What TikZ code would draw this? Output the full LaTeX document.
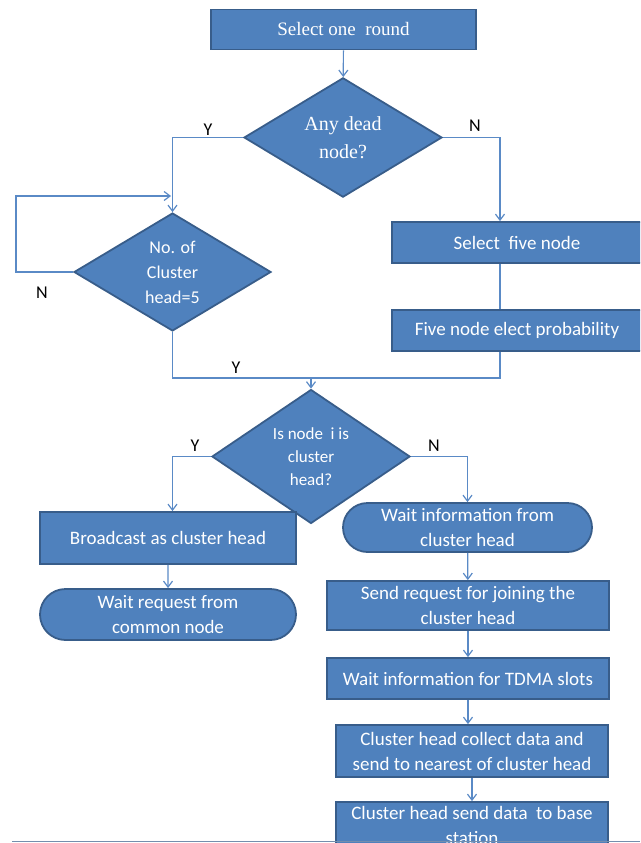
\documentclass[tikz,border=0pt]{standalone}
\usepackage{fontspec}
\setmainfont{Carlito}
\newfontfamily\headfont{Liberation Serif}
\usetikzlibrary{positioning,arrows.meta,shapes.geometric,shapes.misc}
\definecolor{boxfill}{HTML}{4F81BD}
\definecolor{boxline}{HTML}{385D8A}
\definecolor{linkblue}{HTML}{5A8AC6}
\tikzset{
    >={Straight Barb[length=6pt,width=9pt]}
}

\begin{document}
\begin{tikzpicture}[x=1pt,y=-1pt,
  process/.style={rectangle, draw=boxline, fill=boxfill, line width=1.8pt, text=white, align=center, inner sep=0pt, font=\fontsize{19}{25}\selectfont},
  terminal/.style={process, rounded rectangle},
  decision/.style={diamond, draw=boxline, fill=boxfill, line width=1.8pt, text=white, align=center, inner sep=0pt},
  arrowstyle/.style={->, draw=linkblue, line width=1.2pt},
  linkstyle/.style={draw=linkblue, line width=1.2pt},
  answer/.style={font=\fontsize{18}{20}\selectfont, text=black}
]
  \useasboundingbox (0,0) rectangle (640,843);
  \clip (0,0) rectangle (640,843);

  % Upper part: round selection and cluster head count
  \node[process, minimum width=265pt, minimum height=40pt, font=\headfont\fontsize{19}{25}\selectfont] (round) at (343.5,29.5) {Select one~ round};
  \node[decision, minimum width=198pt, minimum height=117pt, font=\headfont\fontsize{20}{28}\selectfont] (dead) at (343,137.5) {Any dead\\node?};
  \node[decision, minimum width=197pt, minimum height=118pt, font=\fontsize{18}{25}\selectfont] (heads) at (172.5,272) {No. of\\Cluster\\head=5};
  \node[process, minimum width=250pt, minimum height=41pt] (five) at (517,242.5) {Select~ five node};
  \node[process, minimum width=250pt, minimum height=41pt] (elect) at (517,330.5) {Five node elect probability};

  % Lower part: cluster head or common node
  \node[decision, minimum width=198pt, minimum height=97pt, font=\fontsize{17}{23}\selectfont] (ischead) at (311,456.5) {Is node~~i is\\cluster\\head?};
  \node[process, minimum width=256pt, minimum height=52pt] (bcast) at (168,538) {Broadcast as cluster head};
  \node[terminal, minimum width=256pt, minimum height=51pt] (waitreq) at (168,614.5) {Wait request from\\common node};
  \node[terminal, minimum width=249pt, minimum height=49pt] (waitinfo) at (467.5,527.5) {Wait information from\\cluster head};
  \node[process, minimum width=282pt, minimum height=49pt] (join) at (468,605.5) {Send request for joining the\\cluster head};
  \node[process, minimum width=282pt, minimum height=41pt] (tdma) at (468,678.5) {Wait information for TDMA slots};
  \node[process, minimum width=272pt, minimum height=52pt] (collect) at (472,751) {Cluster head collect data and\\send to nearest of cluster head};
  \node[process, minimum width=272pt, minimum height=46pt] (base) at (472,825) {Cluster head send data~ to base\\station};

  % Helper points for the elbow lines
  \coordinate (nline) at (500,0);
  \coordinate (loopcorner) at (16,196);
  \coordinate (loopend) at (171,196);
  \coordinate (merge) at (311,378);

  % Connectors
  \draw[arrowstyle] (round) -- (dead);
  \draw[arrowstyle] (dead.west) -| (heads.north);
  \draw[arrowstyle] (dead.east) -| (nline |- five.north);
  \draw[linkstyle] (nline |- five.south) -- (nline |- elect.north);
  \draw[arrowstyle] (heads.west) -| (loopcorner) -- (loopend);
  \draw[linkstyle] (heads.south) |- (merge);
  \draw[linkstyle] (nline |- elect.south) |- (merge);
  \draw[arrowstyle] (merge) -- (ischead.north);
  \draw[arrowstyle] (ischead.west) -| (heads.south |- bcast.north);
  \draw[arrowstyle] (ischead.east) -| (waitinfo.north);
  \draw[arrowstyle] (bcast) -- (waitreq);
  \draw[arrowstyle] (waitinfo) -- (join);
  \draw[arrowstyle] (join) -- (tdma);
  \draw[arrowstyle] (tdma.south) -- (tdma.south |- collect.north);
  \draw[arrowstyle] (collect) -- (base);

  % Y / N labels
  \node[answer] (ydead) at (208,130) {Y};
  \node[answer] (ndead) at (475,126) {N};
  \node[answer] (nheads) at (42,293) {N};
  \node[answer] (yheads) at (236,368) {Y};
  \node[answer] (yis) at (195,446) {Y};
  \node[answer] (nis) at (434,446) {N};

  % Bottom edge line
  \draw[boxline!70, line width=1.5pt] (12,841.5) -- (640,841.5);
\end{tikzpicture}
\end{document}
